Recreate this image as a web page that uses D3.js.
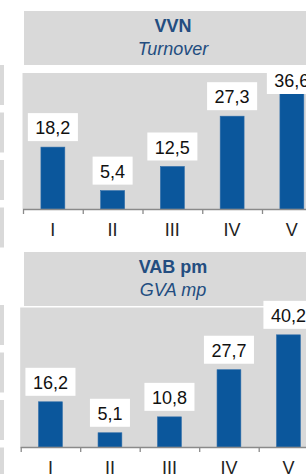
<!DOCTYPE html>
<html>
<head>
<meta charset="utf-8">
<script src="https://cdn.jsdelivr.net/npm/d3@7/dist/d3.min.js"></script>
<style>
  html, body { margin: 0; padding: 0; background: #fff; }
  svg { display: block; font-family: "Liberation Sans", Arial, sans-serif; }
</style>
</head>
<body>
<svg id="chart" width="306" height="474"></svg>
<script>
// ---- data ----
const categories = ["I", "II", "III", "IV", "V"];
const turnoverValues = [18.2, 5.4, 12.5, 27.3, 36.6];
const gvaValues = [16.2, 5.1, 10.8, 27.7, 40.2];
const panelTitles = ["VVN", "VAB pm"];
const panelSubtitles = ["Turnover", "GVA mp"];
const yDomainMax = [40, 50];

// ---- layout ----
const svg = d3.select("#chart");
const W = 306, H = 474;
const gray = "#d9d9d9";
const barColor = "#0b579c";
const titleColor = "#234d80";
const locale = d3.formatLocale({ decimal: ",", thousands: ".", grouping: [3], currency: ["", "€"] });
const fmt = locale.format(".1f");

// neighbouring-chart stubs at the left edge
[65, 305].forEach(start => {
  d3.range(4).forEach(i => {
    svg.append("rect").attr("x", 0).attr("y", start + i * 47.5)
      .attr("width", 4).attr("height", 40).attr("fill", gray);
  });
});

const panels = [
  { values: turnoverValues, title: panelTitles[0], sub: panelSubtitles[0], yMax: yDomainMax[0],
    hTop: 11, hBot: 65, pTop: 73, base: 209, pLeft: 23, xEnd: 321.75, labelMinTop: 66 },
  { values: gvaValues, title: panelTitles[1], sub: panelSubtitles[1], yMax: yDomainMax[1],
    hTop: 252, hBot: 306, pTop: 307.5, base: 447, pLeft: 20.7, xEnd: 318.2, labelMinTop: 240 }
];

panels.forEach(p => {
  const g = svg.append("g");
  // header
  g.append("rect").attr("x", 24).attr("y", p.hTop).attr("width", 300).attr("height", p.hBot - p.hTop).attr("fill", gray);
  const cx = 173;
  g.append("text").attr("x", cx).attr("y", p.hTop + 21).attr("text-anchor", "middle")
    .attr("font-size", 18).attr("font-weight", "bold").attr("fill", titleColor).text(p.title);
  g.append("text").attr("x", cx).attr("y", p.hTop + 44).attr("text-anchor", "middle")
    .attr("font-size", 18).attr("font-style", "italic").attr("fill", titleColor).text(p.sub);

  // plot area
  g.append("rect").attr("x", p.pLeft - 0.5).attr("y", p.pTop).attr("width", 320 - p.pLeft).attr("height", p.base - p.pTop).attr("fill", gray);

  const x = d3.scaleBand().domain(categories).range([p.pLeft, p.xEnd]).paddingInner(0.6).paddingOuter(0.3);
  const xb = d3.scaleBand().domain(categories).range([p.pLeft, p.xEnd]).padding(0);
  const y = d3.scaleLinear().domain([0, p.yMax]).range([p.base, p.pTop]);

  const data = categories.map((c, i) => ({ c, v: p.values[i] }));

  g.selectAll("rect.bar").data(data).enter().append("rect").attr("class", "bar")
    .attr("x", d => x(d.c)).attr("width", x.bandwidth())
    .attr("y", d => y(d.v)).attr("height", d => y(0) - y(d.v))
    .attr("fill", barColor).attr("stroke", "#2a6aa8").attr("stroke-width", 0.6);

  // axis line and ticks (ticks at category boundaries)
  g.append("line").attr("x1", p.pLeft).attr("x2", 320).attr("y1", p.base + 0.5).attr("y2", p.base + 0.5)
    .attr("stroke", "#8a8a8a").attr("stroke-width", 1.3);
  const tickXs = categories.map(c => xb(c)).concat([xb(categories[categories.length - 1]) + xb.step()]);
  g.selectAll("line.tick").data(tickXs).enter().append("line").attr("class", "tick")
    .attr("x1", d => d + 0.5).attr("x2", d => d + 0.5).attr("y1", p.base).attr("y2", p.base + 5)
    .attr("stroke", "#8a8a8a").attr("stroke-width", 1.3);

  g.selectAll("text.cat").data(categories).enter().append("text").attr("class", "cat")
    .attr("x", d => x(d) + x.bandwidth() / 2).attr("y", p.base + 27)
    .attr("text-anchor", "middle").attr("font-size", 18).attr("fill", "#222").text(d => d);

  // value labels with white boxes
  const lg = svg.append("g");
  data.forEach(d => {
    const cxx = x(d.c) + x.bandwidth() / 2;
    const boxH = 28;
    let top = y(d.v) - 6 - boxH;
    top = Math.max(top, p.labelMinTop);
    const rect = lg.append("rect").attr("fill", "#fff");
    const t = lg.append("text").attr("x", cxx).attr("y", top + boxH - 7).attr("text-anchor", "middle")
      .attr("font-size", 18).attr("fill", "#111").text(fmt(d.v));
    const len = t.node().getComputedTextLength();
    const bw = len + 15;
    rect.attr("x", cxx - bw / 2).attr("y", top).attr("width", bw).attr("height", boxH);
  });
});
</script>
</body>
</html>
